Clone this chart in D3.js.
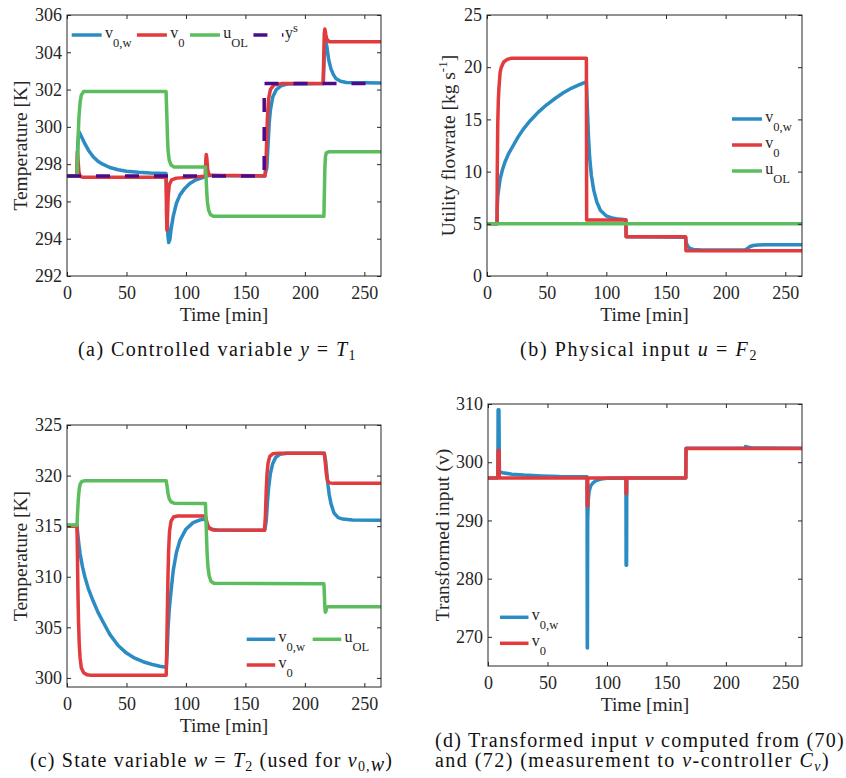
<!DOCTYPE html>
<html>
<head>
<meta charset="utf-8">
<script src="https://cdn.jsdelivr.net/npm/d3@7"></script>
<style>
  body { margin: 0; background: #fff; }
  svg { display: block; }
  text { font-family: "Liberation Serif", "Tinos", "Times New Roman", serif; }
</style>
</head>
<body>
<svg id="fig" width="846" height="778"></svg>
<script>
// shared time ticks [min]
const timeTicks = [0, 50, 100, 150, 200, 250];

// colours of the four signals
const colV0w = "#2b8cc4";
const colV0 = "#e23b3d";
const colUol = "#5cbd5f";
const colYs = "#4b0c8c";

// (a) controlled variable y = T1 [K]
const aTicks = [292, 294, 296, 298, 300, 302, 304, 306];
const aV0w = [[0, 297.35], [8.4, 297.35], [9, 299.0], [10, 299.75], [12, 299.5], [15, 299.1], [18, 298.75], [22, 298.4],
  [26, 298.15], [30, 298.0], [36, 297.82], [43, 297.7], [50, 297.62], [60, 297.56], [70, 297.52], [83.3, 297.5],
  [84, 295.8], [84.8, 294.2], [85.5, 293.8], [86.5, 293.95], [87.5, 294.5], [89.3, 295.2], [92, 295.9], [95, 296.35],
  [99, 296.7], [103, 296.95], [108, 297.15], [114, 297.28], [117, 297.35], [120, 297.4], [130, 297.38], [166.3, 297.37],
  [168, 297.8], [169, 299.0], [170, 300.2], [171, 300.9], [173, 301.6], [176, 302.0], [180, 302.2], [185, 302.3],
  [215.5, 302.33], [216.3, 303.8], [217.2, 304.75], [218.5, 304.3], [220, 303.6], [222, 303.1], [224, 302.8],
  [226, 302.6], [230, 302.45], [235, 302.38], [264, 302.35]];
const aV0 = [[0, 297.35], [8.4, 297.35], [8.7, 298.66], [9.2, 298.3], [10, 297.6], [11, 297.35], [13, 297.3],
  [83.3, 297.3], [83.6, 295.5], [84, 294.45], [84.5, 295.2], [85, 296.2], [86, 296.9], [88, 297.15], [92, 297.25],
  [116.2, 297.35], [116.7, 298.2], [117.1, 298.52], [117.6, 298.3], [118.3, 297.7], [119.5, 297.4], [166.5, 297.37],
  [167.5, 298.5], [168.5, 300.5], [169.5, 301.5], [171, 302.0], [174, 302.25], [180, 302.32], [215.3, 302.33],
  [215.8, 303.6], [216.3, 305.0], [216.8, 305.25], [217.6, 304.95], [218.6, 304.68], [220.5, 304.57], [264, 304.57]];
const aUol = [[0, 297.35], [8.4, 297.35], [9, 298.5], [9.5, 299.6], [10, 300.5], [11, 301.3], [12, 301.7], [14, 301.9],
  [83.3, 301.9], [84, 300.5], [84.5, 299.4], [85, 298.7], [86, 298.2], [87.5, 297.95], [90, 297.85], [116.4, 297.85],
  [117, 297.2], [117.5, 296.5], [118, 296.0], [119, 295.55], [120.5, 295.3], [123, 295.2], [216, 295.2],
  [216.4, 296.5], [216.8, 297.8], [217.3, 298.4], [218, 298.6], [220, 298.66], [264, 298.66]];
const aYs = [[0, 297.37], [165.8, 297.37], [165.8, 302.33], [264, 302.33]];

// (b) physical input u = F2 [kg/s]
const bTicks = [0, 5, 10, 15, 20, 25];
const bV0w = [[0, 5.0], [8.4, 5.0], [8.6, 6.5], [9, 7.6], [10, 8.5], [11, 9.3], [13, 10.2], [15, 10.9], [18, 11.7],
  [22, 12.5], [26, 13.3], [30, 14.0], [36, 14.85], [43, 15.7], [50, 16.4], [57, 17.0], [64, 17.55], [71, 18.0],
  [78, 18.35], [83.3, 18.6], [84, 16.5], [85, 13.5], [86, 11.4], [87.5, 9.6], [89.5, 8.2], [92, 7.1], [95, 6.3],
  [100, 5.75], [105, 5.55], [110, 5.45], [116.4, 5.4], [116.6, 3.76], [166.5, 3.7], [167, 3.2], [168, 2.9],
  [170, 2.65], [173, 2.55], [180, 2.5], [216, 2.48], [218, 2.6], [220, 2.8], [223, 2.92], [227, 2.97], [235, 3.0],
  [264, 3.0]];
const bV0 = [[0, 5.0], [8.4, 5.0], [8.6, 10], [9, 14.5], [9.5, 16.8], [10, 18.0], [11, 19.5], [12, 20.0], [14, 20.5],
  [17, 20.75], [20, 20.85], [83.3, 20.85], [83.5, 5.36], [116.4, 5.36], [116.6, 3.76], [166.5, 3.76], [166.7, 2.43],
  [264, 2.43]];
const bUol = [[0, 5.0], [264, 5.0]];

// (c) state variable w = T2 [K]
const cTicks = [300, 305, 310, 315, 320, 325];
const cV0w = [[0, 315.1], [8.4, 315.1], [9, 314.3], [10, 313.2], [11, 312.3], [13, 311.0], [15, 310.0], [18, 308.8],
  [22, 307.6], [26, 306.5], [30, 305.6], [36, 304.3], [43, 303.2], [50, 302.45], [57, 301.95], [64, 301.6],
  [71, 301.35], [78, 301.15], [83.5, 301.05], [84.2, 302.5], [85, 305.0], [86, 306.8], [87.5, 308.6], [89.3, 310.6],
  [92, 312.4], [95, 313.6], [100, 314.7], [106, 315.35], [112, 315.62], [116.4, 315.7], [117.5, 315.3], [119, 314.9],
  [122, 314.7], [126, 314.62], [166.3, 314.6], [167.5, 315.5], [168.5, 317.3], [169.5, 318.8], [171, 320.2],
  [173, 321.2], [175.5, 321.8], [179, 322.1], [185, 322.2], [216.3, 322.2], [217.5, 321.4], [218.5, 320.2],
  [219.5, 319.0], [220.5, 318.1], [222, 317.2], [224.5, 316.3], [228, 315.85], [232, 315.7], [240, 315.6],
  [264, 315.58]];
const cV0 = [[0, 315.0], [8.4, 315.0], [8.8, 312], [9.2, 308.5], [9.7, 305.5], [10.3, 303.3], [11, 302], [12, 301.0],
  [14, 300.5], [17, 300.3], [20, 300.27], [83.4, 300.27], [83.8, 302.5], [84.3, 306], [84.8, 309.5], [85.4, 312.5],
  [86.2, 314.5], [87.5, 315.5], [89.5, 315.9], [93, 316.0], [116.4, 316.0], [117.2, 315.6], [118.5, 315.0],
  [120, 314.75], [123, 314.62], [166, 314.6], [166.8, 316], [167.5, 318.5], [168.2, 320.2], [169, 321.2],
  [170.5, 321.9], [173, 322.15], [178, 322.2], [216.3, 322.2], [217, 321.5], [218, 320.2], [219, 319.5],
  [220.5, 319.28], [224, 319.23], [264, 319.23]];
const cUol = [[0, 315.1], [8.4, 315.1], [9, 316.6], [9.6, 317.8], [10.3, 318.7], [11.2, 319.2], [12.5, 319.42],
  [14.5, 319.48], [83.4, 319.48], [84.2, 318.9], [85, 318.2], [86, 317.7], [87.5, 317.4], [90, 317.27],
  [116.4, 317.25], [116.8, 316], [117.3, 314], [117.8, 312.3], [118.5, 311], [119.5, 310.1], [121, 309.55],
  [123.5, 309.35], [216, 309.3], [216.4, 308.2], [216.8, 307], [217.2, 306.5], [217.7, 306.6], [218.3, 306.95],
  [219, 307.03], [264, 307.03]];

// (d) transformed input v
const dTicks = [270, 280, 290, 300, 310];
const dV0w = [[0, 297.3], [8.3, 297.3], [8.5, 309], [9.2, 309], [9.6, 298.4], [12, 298.2], [20, 297.95], [30, 297.8],
  [45, 297.65], [60, 297.55], [83.3, 297.5], [83.45, 268.1], [83.6, 268.1], [83.8, 290], [84.3, 293.5], [85, 295.0],
  [86.5, 296.0], [88.5, 296.5], [91, 296.85], [95, 297.1], [100, 297.25], [116, 297.3], [116.1, 282.3],
  [116.5, 282.3], [116.7, 297.3], [166.3, 297.3], [166.5, 302.4], [216, 302.4], [216.5, 302.7], [217.5, 302.6],
  [222, 302.45], [264, 302.4]];
const dV0 = [[0, 297.3], [8.3, 297.3], [8.5, 302.0], [9.3, 302.0], [9.5, 297.3], [83.3, 297.3], [83.4, 292.5],
  [83.8, 292.5], [83.9, 297.3], [116, 297.3], [116.1, 294.6], [116.5, 294.6], [116.6, 297.3], [166.3, 297.3],
  [166.5, 302.35], [264, 302.35]];

const svg = d3.select("#fig");
const axisCol = "#262626";

// legend label with MATLAB-style sub/superscript
function label(sel, main, sub, sup) {
  sel.append("tspan").text(main);
  if (sub) sel.append("tspan").attr("font-size", 12.5).attr("dy", 9).text(sub);
  if (sup) sel.append("tspan").attr("font-size", 12.5).attr("dy", -6).text(sup);
}

function drawPanel(p) {
  const g = svg.append("g");
  const x = d3.scaleLinear().domain([0, 264]).range([p.left, p.right]);
  const y = d3.scaleLinear().domain(p.yDomain).range([p.bottom, p.top]);

  svg.append("clipPath").attr("id", "clip-" + p.name)
    .append("rect")
    .attr("x", p.left).attr("y", p.top)
    .attr("width", p.right - p.left).attr("height", p.bottom - p.top);

  const line = d3.line().x(d => x(d[0])).y(d => y(d[1]));
  p.series.forEach(s => {
    g.append("path")
      .attr("clip-path", `url(#clip-${p.name})`)
      .attr("d", line(s.data))
      .attr("fill", "none")
      .attr("stroke", s.color)
      .attr("stroke-width", 3.5)
      .attr("stroke-linejoin", "round")
      .attr("stroke-dasharray", s.dash || null);
  });

  // axes, ticks pointing inward on all four sides
  const axes = [
    [d3.axisBottom(x).tickValues(timeTicks).tickPadding(10), `translate(0,${p.bottom})`],
    [d3.axisTop(x).tickValues(timeTicks).tickFormat(""), `translate(0,${p.top})`],
    [d3.axisLeft(y).tickValues(p.ticks).tickPadding(5), `translate(${p.left},0)`],
    [d3.axisRight(y).tickValues(p.ticks).tickFormat(""), `translate(${p.right},0)`]
  ];
  axes.forEach(([ax, tr]) => {
    const a = g.append("g").attr("transform", tr)
      .call(ax.tickSizeInner(-4).tickSizeOuter(0));
    a.attr("font-size", 18).attr("font-family", null).style("color", axisCol);
    a.select(".domain").remove();
    a.selectAll("text").attr("fill", axisCol);
  });

  g.append("rect")
    .attr("x", p.left).attr("y", p.top)
    .attr("width", p.right - p.left).attr("height", p.bottom - p.top)
    .attr("fill", "none").attr("stroke", axisCol).attr("stroke-width", 1);

  g.append("text")
    .attr("x", (p.left + p.right) / 2).attr("y", p.bottom + 45)
    .attr("text-anchor", "middle").attr("font-size", 19.5).attr("fill", axisCol)
    .text("Time [min]");

  const yl = g.append("text")
    .attr("transform", `translate(${p.yLabelX},${(p.top + p.bottom) / 2}) rotate(-90)`)
    .attr("text-anchor", "middle").attr("font-size", 19.5).attr("fill", axisCol);
  p.yLabel(yl);

  // legend
  const L = p.legend;
  let cx = L.x;
  L.items.forEach((it, i) => {
    const col = Math.floor(i / L.rows), row = i % L.rows;
    const lx = L.colWidth ? L.x + col * L.colWidth : cx;
    const ly = L.y + row * L.rowHeight;
    g.append("line")
      .attr("x1", lx).attr("x2", lx + L.len).attr("y1", ly).attr("y2", ly)
      .attr("stroke", it.color).attr("stroke-width", 3.5)
      .attr("stroke-dasharray", it.dash || null);
    const t = g.append("text")
      .attr("x", lx + L.len + (it.dash ? 1.5 : 3.3)).attr("y", ly + 2.7)
      .attr("font-size", 16).attr("fill", axisCol);
    label(t, it.main, it.sub, it.sup);
    if (!L.colWidth) cx = lx + L.len + 3.3 + t.node().getComputedTextLength() + 5.5;
  });
}

const legV0w = { main: "v", sub: "0,w", color: colV0w };
const legV0 = { main: "v", sub: "0", color: colV0 };
const legUol = { main: "u", sub: "OL", color: colUol };
const legYs = { main: "y", sup: "s", color: colYs, dash: "14,14.5" };

drawPanel({
  name: "a", left: 67, right: 381, top: 15, bottom: 276, yDomain: [292, 306], ticks: aTicks,
  series: [
    { data: aV0w, color: colV0w }, { data: aV0, color: colV0 },
    { data: aUol, color: colUol }, { data: aYs, color: colYs, dash: "14,15" }
  ],
  yLabelX: 27, yLabel: t => t.text("Temperature [K]"),
  legend: { x: 71.7, y: 35, len: 30, rows: 1, rowHeight: 0, items: [legV0w, legV0, legUol, legYs] }
});

drawPanel({
  name: "b", left: 487, right: 802, top: 15, bottom: 276, yDomain: [0, 25], ticks: bTicks,
  series: [{ data: bV0w, color: colV0w }, { data: bV0, color: colV0 }, { data: bUol, color: colUol }],
  yLabelX: 455,
  yLabel: t => {
    t.append("tspan").text("Utility flowrate [kg s");
    t.append("tspan").attr("font-size", 13).attr("dy", -8).text("-1");
    t.append("tspan").attr("dy", 8).text("]");
  },
  legend: { x: 732, y: 119, len: 30, rows: 3, rowHeight: 26, colWidth: 66, items: [legV0w, legV0, legUol] }
});

drawPanel({
  name: "c", left: 67, right: 381, top: 425, bottom: 687, yDomain: [299.1, 325], ticks: cTicks,
  series: [{ data: cV0w, color: colV0w }, { data: cV0, color: colV0 }, { data: cUol, color: colUol }],
  yLabelX: 27, yLabel: t => t.text("Temperature [K]"),
  legend: { x: 246.7, y: 639.3, len: 28.5, rows: 2, rowHeight: 25.7, colWidth: 66, items: [legV0w, legV0, legUol] }
});

drawPanel({
  name: "d", left: 488, right: 802, top: 404, bottom: 666, yDomain: [265, 310], ticks: dTicks,
  series: [{ data: dV0w, color: colV0w }, { data: dV0, color: colV0 }],
  yLabelX: 449, yLabel: t => t.text("Transformed input (v)"),
  legend: { x: 500, y: 617.3, len: 28.5, rows: 2, rowHeight: 26, colWidth: 66, items: [legV0w, legV0] }
});

// captions (LaTeX-like), stretched to the reference width
function caption(x, y, width, parts) {
  const t = svg.append("text").attr("x", x).attr("y", y).attr("font-size", 20).attr("fill", "#111");
  parts.forEach(([s, kind]) => {
    const sp = t.append("tspan").text(s);
    if (kind === "i") sp.attr("font-style", "italic");
    if (kind === "sub") sp.attr("font-size", 14).attr("dy", 4);
    if (kind === "subi") sp.attr("font-size", 14).attr("dy", 4).attr("font-style", "italic");
    if (kind === "up") sp.attr("dy", -4);
  });
  const n = t.text().length;
  const len = t.node().getComputedTextLength();
  t.attr("letter-spacing", (width - len) / n);
}

caption(78, 356, 279, [["(a) Controlled variable "], ["y", "i"], [" = "], ["T", "i"], ["1", "sub"]]);
caption(520, 356, 238, [["(b) Physical input "], ["u", "i"], [" = "], ["F", "i"], ["2", "sub"]]);
caption(30, 767, 363, [["(c) State variable "], ["w", "i"], [" = "], ["T", "i"], ["2", "sub"], [" (used for ", "up"],
  ["v", "i"], ["0,", "sub"], ["w", "i"], [")", "up"]]);
caption(435, 747, 410, [["(d) Transformed input "], ["v", "i"], [" computed from (70)"]]);
caption(435, 767, 395, [["and (72) (measurement to "], ["v", "i"], ["-controller "], ["C", "i"], ["v", "subi"],
  [")", "up"]]);
</script>
</body>
</html>
